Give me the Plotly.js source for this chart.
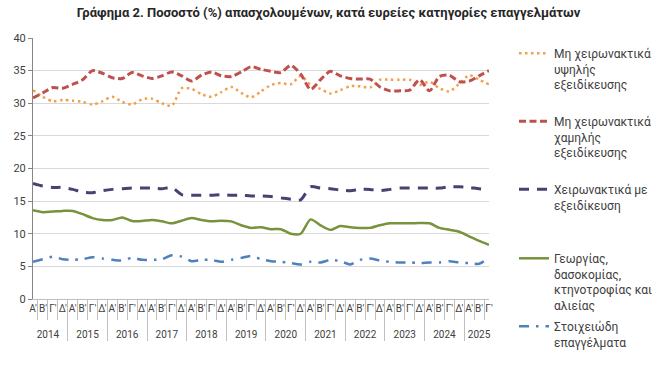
<!DOCTYPE html>
<html><head><meta charset="utf-8">
<script src="https://cdn.plot.ly/plotly-3.0.1.min.js"></script>
<style>html,body{margin:0;padding:0;background:#fff}#chart{width:657px;height:386px}</style>
</head><body><div id="chart"></div>
<script>
const years = ['2014','2015','2016','2017','2018','2019','2020','2021','2022','2023','2024','2025'];
const quarterLabels = ["Α'","Β'","Γ'","Δ'"];
const quartersPerYear = [4,4,4,4,4,4,4,4,4,4,4,3];

const highSkillNonManual = [32.0,31.0,30.3,30.5,30.4,30.2,29.8,30.3,31.0,30.2,29.8,30.6,30.7,30.0,29.6,32.3,32.2,31.4,31.0,31.7,32.5,31.6,30.9,31.8,32.8,33.1,32.9,34.2,32.8,32.2,31.5,32.0,32.6,32.6,32.4,33.6,33.6,33.6,33.6,32.8,33.3,32.3,31.8,33.0,34.3,33.6,32.9];
const lowSkillNonManual  = [30.8,31.6,32.4,32.3,32.9,33.6,35.0,34.6,33.9,33.8,34.7,34.2,33.8,34.2,34.8,34.2,33.4,34.3,34.8,34.2,34.1,34.8,35.6,35.2,34.9,34.7,35.8,34.5,32.1,33.6,34.9,34.2,33.8,33.7,33.7,32.5,31.9,31.9,32.0,33.6,31.9,34.1,34.3,33.3,33.4,34.2,35.0];
const skilledManual      = [17.7,17.3,17.1,17.1,16.8,16.4,16.3,16.6,16.8,16.9,17.0,17.0,17.0,16.9,17.1,16.0,15.9,15.9,15.9,16.0,15.9,15.9,15.8,15.8,15.7,15.5,15.3,15.2,17.2,17.0,16.9,16.7,16.6,16.8,16.8,16.6,16.8,17.0,17.0,17.0,17.0,17.0,17.2,17.2,17.1,16.9,16.8];
const agriculture        = [13.6,13.3,13.4,13.5,13.5,13.0,12.4,12.1,12.1,12.5,11.95,11.95,12.1,11.9,11.6,12.0,12.4,12.1,11.9,12.0,11.9,11.3,10.9,11.0,10.7,10.7,10.0,10.0,12.2,11.3,10.6,11.2,11.0,10.9,10.9,11.3,11.6,11.6,11.6,11.65,11.6,10.9,10.6,10.3,9.6,8.9,8.3];
const elementary         = [5.7,6.1,6.5,6.1,6.0,6.1,6.4,6.2,6.0,5.9,6.3,6.0,6.0,6.1,6.7,6.5,5.8,6.0,6.0,5.7,6.0,6.3,6.6,6.1,5.8,5.7,5.5,5.3,5.7,5.6,6.0,5.8,5.3,6.0,6.2,5.9,5.7,5.6,5.6,5.5,5.6,5.6,5.8,5.6,5.5,5.4,6.3];

const seriesNames = [
  "Μη χειρωνακτικά<br>υψηλής<br>εξειδίκευσης",
  "Μη χειρωνακτικά<br>χαμηλής<br>εξειδίκευσης",
  "Χειρωνακτικά με<br>εξειδίκευση",
  "Γεωργίας,<br>δασοκομίας,<br>κτηνοτροφίας και<br>αλιείας",
  "Στοιχειώδη<br>επαγγέλματα"
];

// build two-level category axis (quarter label gets an empty second line to space the year row)
const xYears = [], xQuarters = [];
years.forEach((y, k) => { for (let q = 0; q < quartersPerYear[k]; q++) { xYears.push(y); xQuarters.push(quarterLabels[q] + '<br> '); } });
const xCats = [xYears, xQuarters];

const FONT = 'Roboto, "Noto Sans", sans-serif';
const styles = [
  {color:'#F0A04B', dash:'2.5px,3.5px', width:2.5},
  {color:'#C0504D', dash:'7px,3.5px', width:3},
  {color:'#4E3F73', dash:'10px,8px', width:3},
  {color:'#77933C', dash:'solid', width:2.5},
  {color:'#4F81BD', dash:'10px,7px,2.5px,7px', width:2.5}
];
const values = [highSkillNonManual, lowSkillNonManual, skilledManual, agriculture, elementary];
const legendIds = ['legend','legend2','legend3','legend4','legend5'];
const legendTops = [39, 107, 175, 244, 312];

const traces = values.map((v, i) => ({
  type:'scatter', mode:'lines', x:xCats, y:v, name:seriesNames[i],
  legend: legendIds[i],
  line:{color:styles[i].color, dash:styles[i].dash, width:styles[i].width, shape:'spline', smoothing:0.7},
  hoverinfo:'skip'
}));

const layout = {
  width:657, height:386,
  margin:{l:33, r:168, t:38, b:87},
  paper_bgcolor:'#fff', plot_bgcolor:'#fff',
  font:{family:FONT, size:11, color:'#404040'},
  title:{text:'<b>Γράφημα 2. Ποσοστό (%) απασχολουμένων, κατά ευρείες κατηγορίες επαγγελμάτων</b>',
         font:{family:FONT, size:13, color:'#262626'}, x:0.5, xref:'container', y:1-12/386, yref:'container', yanchor:'middle'},
  xaxis:{type:'multicategory', showgrid:false, showline:true, linecolor:'#bfbfbf', linewidth:1,
         tickmode:'linear', tick0:0, dtick:1,
         ticks:'outside', tickson:'boundaries', ticklen:20, tickcolor:'#bfbfbf', tickangle:0,
         showdividers:true, dividercolor:'#bfbfbf', dividerwidth:1,
         tickfont:{family:FONT, size:10, color:'#404040'}, fixedrange:true},
  yaxis:{range:[0,40], dtick:5, showgrid:true, gridcolor:'#d9d9d9', gridwidth:1,
         showline:true, linecolor:'#868686', linewidth:1, ticks:'outside', ticklen:4, tickcolor:'#868686',
         zeroline:false, tickfont:{family:FONT, size:11, color:'#404040'}, fixedrange:true},
  showlegend:true
};
legendIds.forEach((id, i) => {
  layout[id] = {xref:'container', yref:'container', x:514/657, y:1-legendTops[i]/386, xanchor:'left', yanchor:'top',
    valign:'top', bgcolor:'rgba(0,0,0,0)', borderwidth:0, itemwidth:30,
    font:{family:FONT, size:12, color:'#404040'}};
});

Plotly.newPlot('chart', traces, layout, {staticPlot:true, displayModeBar:false});
</script>
</body></html>
